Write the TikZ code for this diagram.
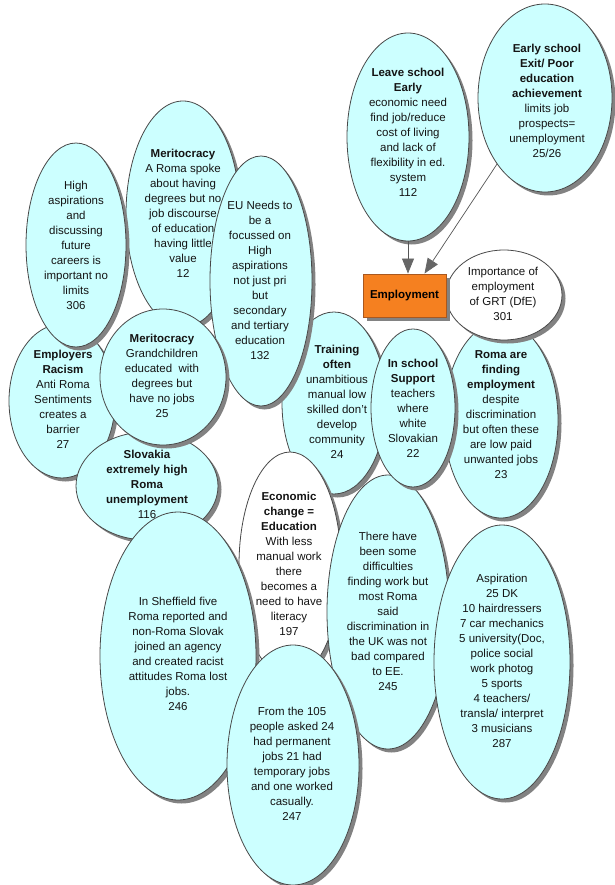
\documentclass[tikz,border=0pt]{standalone}
\usepackage{fontspec}
\setmainfont{Liberation Sans}
\usetikzlibrary{shapes.geometric,shadows,arrows.meta,calc}

\definecolor{bubblefill}{HTML}{CCFFFF}
\definecolor{bubbleline}{HTML}{484848}
\definecolor{shade}{HTML}{828282}
\definecolor{orangefill}{HTML}{F58020}
\definecolor{orangeline}{HTML}{A9581F}
\definecolor{linkgray}{HTML}{555555}

\tikzset{
  softshadow/.style={drop shadow={shadow xshift=3.5pt, shadow yshift=-3.5pt, fill=shade, opacity=1}},
  bubble/.style={ellipse, draw=bubbleline, line width=0.8pt, fill=bubblefill,
                 inner sep=0pt, softshadow},
  whitebubble/.style={bubble, fill=white},
  keybox/.style={rectangle, draw=orangeline, line width=0.9pt, fill=orangefill,
                 inner sep=0pt, minimum width=83pt, minimum height=43pt, softshadow,
                 font=\fontsize{11.5}{14}\selectfont\bfseries},
  txt/.style={align=center, inner sep=0pt, text=black!92,
              font=\fontsize{11.5}{15}\selectfont},
  conn/.style={draw=linkgray, line width=0.7pt,
               -{Triangle[length=15pt,width=12pt,fill=black!60,color=black!60]}}
}
% ellipse of radii rx, ry centred at (x,y)
\newcommand\bubbleat[6][bubble]{%
  \node[#1, minimum width=#5*2pt, minimum height=#6*2pt] (#2) at (#3,#4) {};}

\begin{document}
\begin{tikzpicture}[x=1pt,y=-1pt]
\useasboundingbox (0,0) rectangle (614,885);

% --- centre-right cluster
\bubbleat{b24}{334}{403}{52}{91}
\node[txt] (t24) at (337,402) {\textbf{Training}\\\textbf{often}\\unambitious\\manual low\\skilled don't\\develop\\community\\24};

\bubbleat[whitebubble]{b197}{290}{565}{51}{113}
\node[txt] (t197) at (289,564) {\textbf{Economic}\\\textbf{change =}\\\textbf{Education}\\With less\\manual work\\there\\becomes a\\need to have\\literacy\\197};

\bubbleat{b245}{388}{612}{61}{137}
\node[txt] (t245) at (388,611) {There have\\been some\\difficulties\\finding work but\\most Roma\\said\\discrimination in\\the UK was not\\bad compared\\to EE.\\245};

\bubbleat{b23}{501}{420}{57}{98}
\node[txt] (t23) at (501,415) {\textbf{Roma are}\\\textbf{finding}\\\textbf{employment}\\despite\\discrimination\\but often these\\are low paid\\unwanted jobs\\23};

\bubbleat{b22}{413}{408}{42}{79}
\node[txt] (t22) at (413,408) {\textbf{In school}\\\textbf{Support}\\teachers\\where\\white\\Slovakian\\22};

\bubbleat[whitebubble]{b301}{504}{295}{58}{45}
\node[txt] (t301) at (503,294) {Importance of\\employment\\of GRT (DfE)\\301};

% --- central box and its causes
\node[keybox] (emp) at (404.5,295.5) {Employment};

\bubbleat{b112}{408}{137}{61}{104}
\node[txt] (t112) at (408,132) {\textbf{Leave school}\\\textbf{Early}\\economic need\\find job/reduce\\cost of living\\and lack of\\flexibility in ed.\\system\\112};

\bubbleat{b2526}{545}{98}{67}{94}
\node[txt] (t2526) at (547,101) {\textbf{Early school}\\\textbf{Exit/ Poor}\\\textbf{education}\\\textbf{achievement}\\limits job\\prospects=\\unemployment\\25/26};

\draw[conn] (b112.south) -- (b112.south |- emp.north);
\draw[conn] (b2526.234) -- ($(emp.north)+(20,0)$);

% --- left cluster
\bubbleat{b12}{183}{214}{57}{113}
\node[txt] (t12) at (183,213) {\textbf{Meritocracy}\\A Roma spoke\\about having\\degrees but no\\job discourse\\of education\\having little\\value\\12};

\bubbleat{b132}{261}{281}{51}{125}
\node[txt] (t132) at (260,280) {EU Needs to\\be a\\focussed on\\High\\aspirations\\not just pri\\but\\secondary\\and tertiary\\education\\132};

\bubbleat{b27}{62}{401}{53}{77}
\node[txt] (t27) at (63,399) {\textbf{Employers}\\\textbf{Racism}\\Anti Roma\\Sentiments\\creates a\\barrier\\27};

\bubbleat{b306}{76}{245}{50}{102}
\node[txt] (t306) at (76,245) {High\\aspirations\\and\\discussing\\future\\careers is\\important no\\limits\\306};

\bubbleat{b116}{147}{486}{71}{54}
\node[txt] (t116) at (147,484) {\textbf{Slovakia}\\\textbf{extremely high}\\\textbf{Roma}\\\textbf{unemployment}\\116};

\bubbleat{b25}{163}{377}{63}{68}
\node[txt] (t25) at (162,376) {\textbf{Meritocracy}\\Grandchildren\\educated~ with\\degrees but\\have no jobs\\25};

% --- lower cluster
\bubbleat{b246}{178}{656}{78}{144}
\node[txt] (t246) at (178,654) {In Sheffield five\\Roma reported and\\non-Roma Slovak\\joined an agency\\and created racist\\attitudes Roma lost\\jobs.\\246};

\bubbleat{b247}{293}{765}{66}{120}
\node[txt] (t247) at (292,764) {From the 105\\people asked 24\\had permanent\\jobs 21 had\\temporary jobs\\and one worked\\casually.\\247};

\bubbleat{b287}{502}{662}{68}{137}
\node[txt] (t287) at (502,661) {Aspiration\\25 DK\\10 hairdressers\\7 car mechanics\\5 university(Doc,\\police social\\work photog\\5 sports\\4 teachers/\\transla/ interpret\\3 musicians\\287};

\end{tikzpicture}
\end{document}
